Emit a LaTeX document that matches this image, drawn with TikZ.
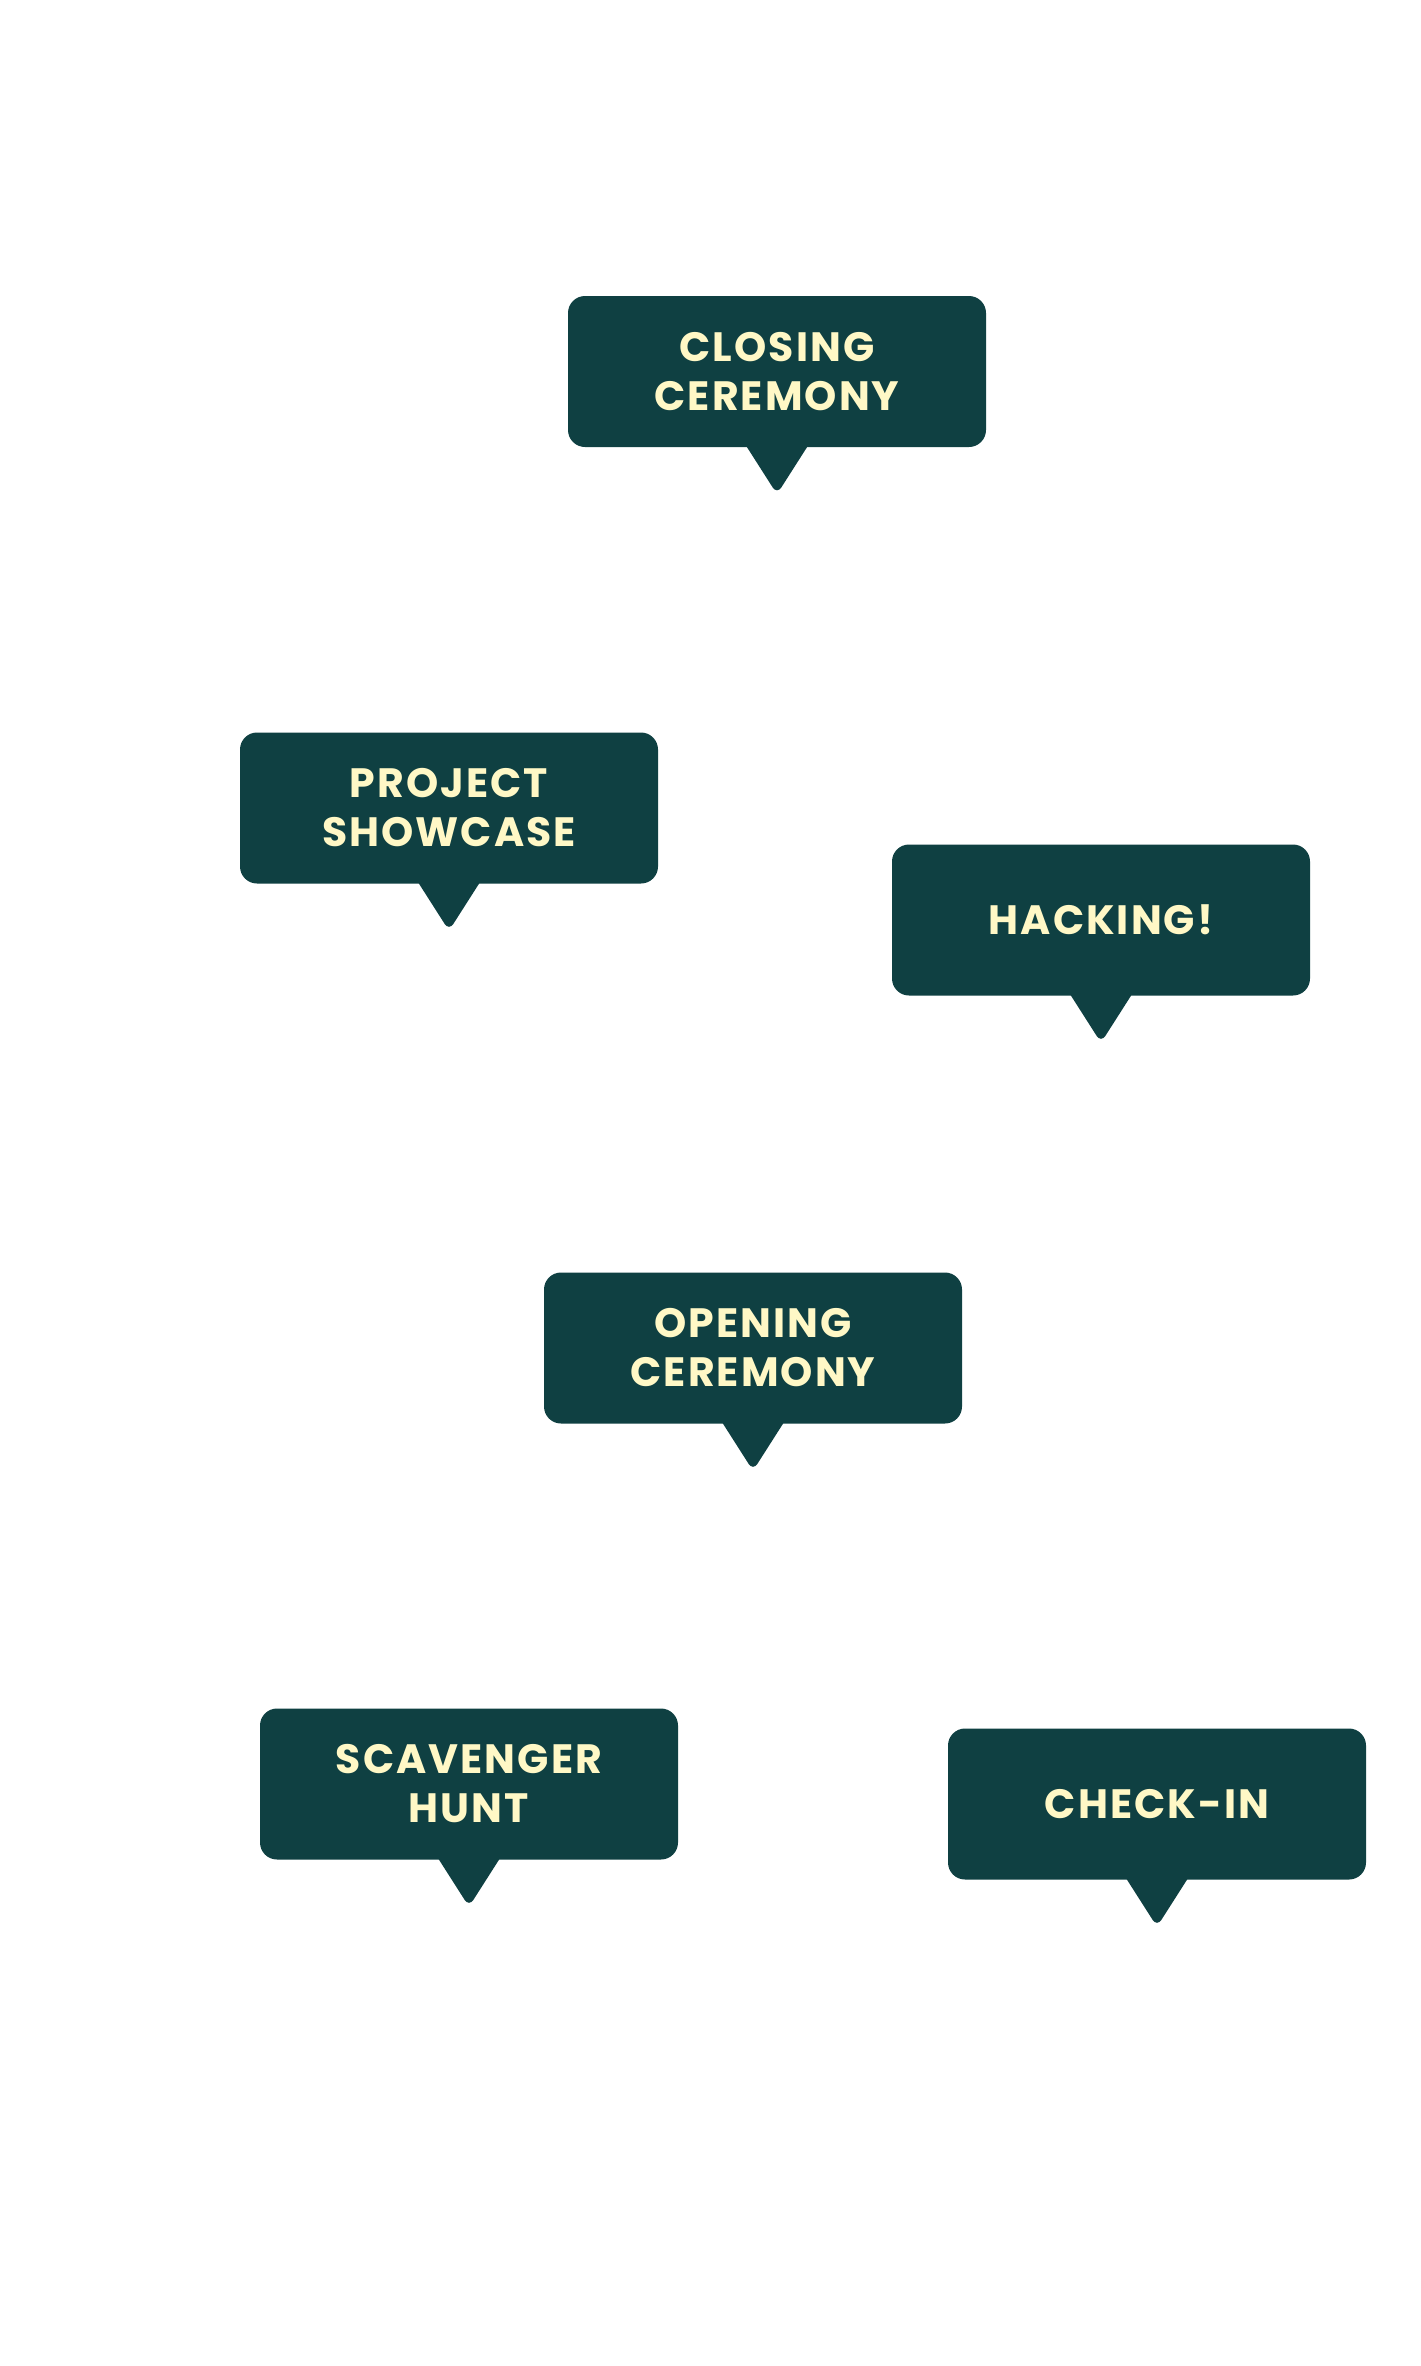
\documentclass[tikz,border=0pt]{standalone}
\usepackage{fontspec}
\setmainfont{Poppins}[LetterSpace=5]
\definecolor{bubblefill}{HTML}{0F4042}
\definecolor{bubbletext}{HTML}{FFF8C6}
\tikzset{
  bubble/.style={fill=bubblefill, rounded corners=17pt, minimum width=418pt,
    minimum height=151pt, inner sep=0pt, align=center, text=bubbletext,
    font=\fontsize{41}{49}\selectfont\bfseries},
}
\newcommand{\bubbletip}[1]{%
  \fill[bubblefill] ([xshift=-32pt,yshift=3pt]#1.south) -- ([xshift=-30pt]#1.south)
    [rounded corners=8pt] -- ([yshift=-47pt]#1.south) [sharp corners]
    -- ([xshift=30pt]#1.south) -- ([xshift=32pt,yshift=3pt]#1.south) -- cycle;}
\begin{document}
\begin{tikzpicture}[x=1pt,y=-1pt]
\fill[white] (0,0) rectangle (1421,2366);
\useasboundingbox (0,0) rectangle (1421,2366);
\node[bubble] (closing) at (777,371.5) {CLOSING\\CEREMONY};
\node[bubble] (showcase) at (449,808) {PROJECT\\SHOWCASE};
\node[bubble] (hacking) at (1101,920) {HACKING!};
\node[bubble] (opening) at (753,1348) {OPENING\\CEREMONY};
\node[bubble] (scavenger) at (469,1784) {SCAVENGER\\HUNT};
\node[bubble] (checkin) at (1157,1804) {CHECK-IN};
\bubbletip{closing}
\bubbletip{showcase}
\bubbletip{hacking}
\bubbletip{opening}
\bubbletip{scavenger}
\bubbletip{checkin}
\end{tikzpicture}
\end{document}
